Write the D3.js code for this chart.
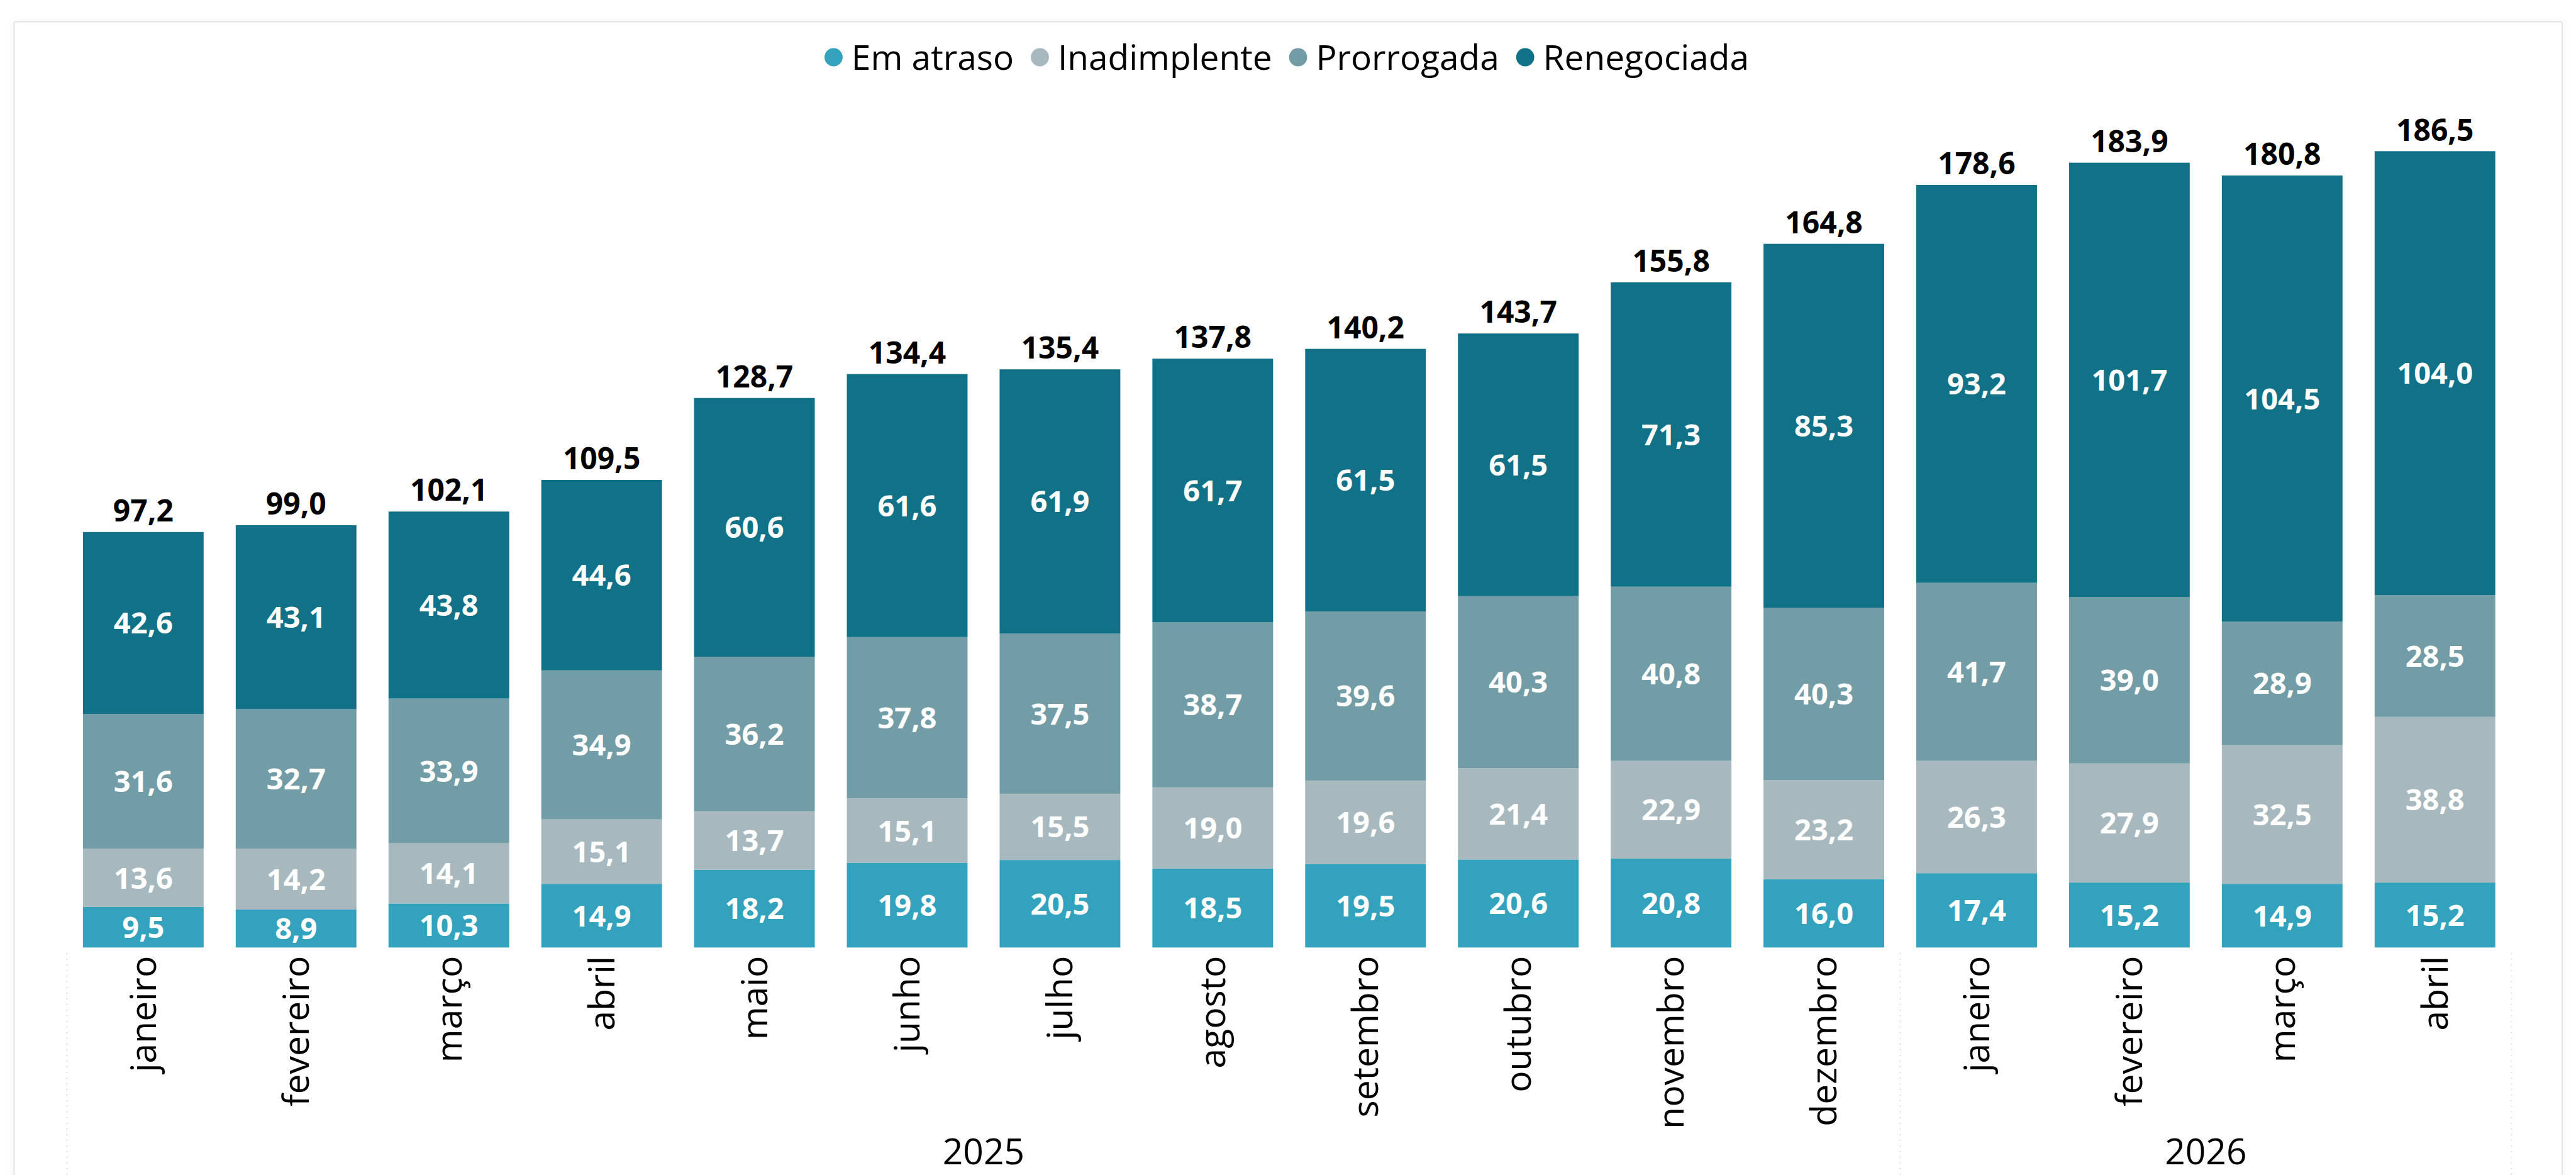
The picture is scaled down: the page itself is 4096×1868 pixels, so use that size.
<!DOCTYPE html>
<html>
<head>
<meta charset="utf-8">
<script src="https://cdn.jsdelivr.net/npm/d3@7"></script>
<style>
  html, body { margin: 0; padding: 0; background: #ffffff; }
  svg { display: block; }
</style>
</head>
<body>
<div id="chart"></div>
<script>
// chart data
const months = ["janeiro", "fevereiro", "março", "abril", "maio", "junho", "julho", "agosto",
                "setembro", "outubro", "novembro", "dezembro", "janeiro", "fevereiro", "março", "abril"];
const years = ["2025", "2026"];
const monthsPerYear = [12, 4];
const seriesNames = ["Em atraso", "Inadimplente", "Prorrogada", "Renegociada"];
const emAtraso = [9.5, 8.9, 10.3, 14.9, 18.2, 19.8, 20.5, 18.5, 19.5, 20.6, 20.8, 16.0, 17.4, 15.2, 14.9, 15.2];
const inadimplente = [13.6, 14.2, 14.1, 15.1, 13.7, 15.1, 15.5, 19.0, 19.6, 21.4, 22.9, 23.2, 26.3, 27.9, 32.5, 38.8];
const prorrogada = [31.6, 32.7, 33.9, 34.9, 36.2, 37.8, 37.5, 38.7, 39.6, 40.3, 40.8, 40.3, 41.7, 39.0, 28.9, 28.5];
const renegociada = [42.6, 43.1, 43.8, 44.6, 60.6, 61.6, 61.9, 61.7, 61.5, 61.5, 71.3, 85.3, 93.2, 101.7, 104.5, 104.0];
const totals = [97.2, 99.0, 102.1, 109.5, 128.7, 134.4, 135.4, 137.8, 140.2, 143.7, 155.8, 164.8, 178.6, 183.9, 180.8, 186.5];

const colors = ["#33a3bd", "#a7b9be", "#729da6", "#117287"];

const W = 4096, H = 1868;
const fmt = v => d3.format(".1f")(v).replace(".", ",");

const svg = d3.select("#chart").append("svg")
    .attr("width", W)
    .attr("height", H);

// card frame with a faint shadow
const defs = svg.append("defs");
defs.append("filter").attr("id", "shadow")
    .attr("x", "-5%").attr("y", "-5%").attr("width", "110%").attr("height", "110%")
    .append("feDropShadow")
    .attr("dx", 0).attr("dy", 0).attr("stdDeviation", 6)
    .attr("flood-color", "#000").attr("flood-opacity", 0.05);

svg.append("rect")
    .attr("x", 22.5).attr("y", 34.5)
    .attr("width", 4074 - 22.5).attr("height", H + 40)
    .attr("rx", 3)
    .attr("fill", "#ffffff")
    .attr("stroke", "#e4e4e4")
    .attr("stroke-width", 2)
    .attr("filter", "url(#shadow)");

// table for the stack
const rows = months.map((m, i) => ({
    idx: i,
    "Em atraso": emAtraso[i],
    "Inadimplente": inadimplente[i],
    "Prorrogada": prorrogada[i],
    "Renegociada": renegociada[i]
}));
const stacked = d3.stack().keys(seriesNames)(rows);

// scales
const x = d3.scaleBand()
    .domain(d3.range(months.length))
    .range([106.4, 3993.2])
    .paddingInner(0.21)
    .paddingOuter(0.105);
const y = d3.scaleLinear()
    .domain([0, 200])
    .range([1506.3, 1506.3 - 200 * 6.788]);
const color = d3.scaleOrdinal().domain(seriesNames).range(colors);

// bars
const layers = svg.append("g").selectAll("g")
    .data(stacked)
    .join("g")
    .attr("fill", d => color(d.key));

layers.selectAll("rect")
    .data(d => d)
    .join("rect")
    .attr("x", d => x(d.data.idx))
    .attr("y", d => y(d[1]))
    .attr("width", x.bandwidth())
    .attr("height", d => y(d[0]) - y(d[1]));

// labels inside segments
const segLabels = svg.append("g")
    .attr("font-family", "'Open Sans', sans-serif")
    .attr("font-weight", "bold")
    .attr("font-size", 47)
    .attr("fill", "#ffffff")
    .attr("text-anchor", "middle");

stacked.forEach(layer => {
    segLabels.selectAll(null)
        .data(layer)
        .join("text")
        .attr("x", d => x(d.data.idx) + x.bandwidth() / 2)
        .attr("y", d => (y(d[0]) + y(d[1])) / 2)
        .attr("dy", "0.36em")
        .text(d => fmt(d[1] - d[0]));
});

// totals above bars
svg.append("g")
    .attr("font-family", "'Open Sans', sans-serif")
    .attr("font-weight", "bold")
    .attr("font-size", 48)
    .attr("fill", "#000000")
    .attr("text-anchor", "middle")
    .selectAll("text")
    .data(totals)
    .join("text")
    .attr("x", (d, i) => x(i) + x.bandwidth() / 2)
    .attr("y", (d, i) => y(stacked[stacked.length - 1][i][1]) - 16.8)
    .text(d => fmt(d));

// month labels (rotated)
svg.append("g")
    .attr("font-family", "'Open Sans', sans-serif")
    .attr("font-size", 57)
    .attr("fill", "#000000")
    .selectAll("text")
    .data(months)
    .join("text")
    .attr("text-anchor", "end")
    .attr("transform", (d, i) => `translate(${x(i) + x.bandwidth() / 2}, ${y(0) + 13.5}) rotate(-90)`)
    .attr("dy", "0.35em")
    .text(d => d);

// year groups: dotted separators and labels
const step = x.step();
const x0 = x.range()[0];
const bounds = [0];
monthsPerYear.forEach(n => bounds.push(bounds[bounds.length - 1] + n));

svg.append("g").selectAll("line")
    .data(bounds)
    .join("line")
    .attr("x1", d => x0 + d * step)
    .attr("x2", d => x0 + d * step)
    .attr("y1", 1515)
    .attr("y2", H)
    .attr("stroke", "#c8c8c8")
    .attr("stroke-width", 1.5)
    .attr("stroke-dasharray", "1.5 7.5");

svg.append("g")
    .attr("font-family", "'Open Sans', sans-serif")
    .attr("font-size", 57)
    .attr("fill", "#000000")
    .attr("text-anchor", "middle")
    .selectAll("text")
    .data(years)
    .join("text")
    .attr("x", (d, i) => x0 + (bounds[i] + bounds[i + 1]) / 2 * step)
    .attr("y", 1851)
    .text(d => d);

// legend
const legend = svg.append("g")
    .attr("font-family", "'Open Sans', sans-serif")
    .attr("font-size", 55)
    .attr("fill", "#000000");

const r = 14.4;
const gapAfter = 27;
let lx = 0;
seriesNames.forEach(name => {
    const g = legend.append("g");
    g.append("circle").attr("cx", r).attr("cy", 0).attr("r", r).attr("fill", color(name));
    const t = g.append("text")
        .attr("x", 2 * r + 14)
        .attr("dy", "0.36em")
        .text(name);
    const w = 2 * r + 14 + t.node().getComputedTextLength();
    g.attr("transform", `translate(${lx}, 0)`);
    lx += w + gapAfter;
});
const legendWidth = lx - gapAfter;
legend.attr("transform", `translate(${2046 - legendWidth / 2}, 91)`);
</script>
</body>
</html>
